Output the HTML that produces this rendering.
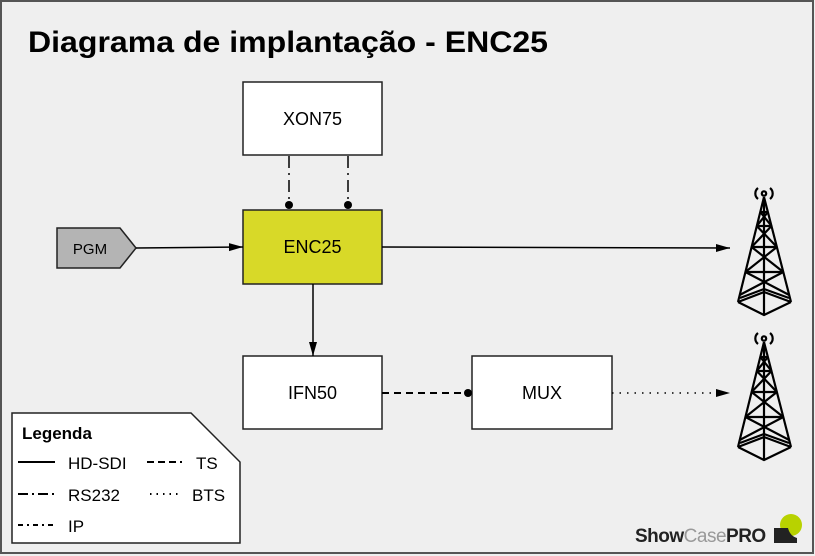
<!DOCTYPE html>
<html><head><meta charset="utf-8"><style>
html,body{margin:0;padding:0;background:#efefef}
svg{display:block}
text{font-family:"Liberation Sans",Arial,sans-serif}
</style></head><body>
<svg width="815" height="556" viewBox="0 0 815 556" xmlns="http://www.w3.org/2000/svg">
<defs>
<marker id="arl" viewBox="0 0 14 10" refX="14" refY="5" markerWidth="14" markerHeight="10" markerUnits="userSpaceOnUse" orient="auto"><path d="M0,1 L14,5 L0,9 z" fill="#000"/></marker>
<g id="tower" fill="none" stroke="#000" stroke-width="2.2">
<path d="M758,188 A7,7 0 0 0 758,199"/>
<path d="M770,188 A7,7 0 0 1 770,199"/>
<circle cx="764" cy="193.5" r="2.2"/>
<path d="M764,197 L738,302 M764,197 L791,302 M764,197 L764,315"/>
<path d="M738,302 L764,315 L791,302 M738,302 L764,292 L791,302 M740,298 L764,289 L789,298"/>
<path d="M760.3,212 H767.9 M756.8,226 H771.5 M751.6,247 H776.9 M745.4,272 H783.3"/>
<path d="M760.3,212 L771.5,226 M767.9,212 L756.8,226 M756.8,226 L776.9,247 M771.5,226 L751.6,247 M751.6,247 L783.3,272 M776.9,247 L745.4,272 M745.4,272 L789.2,295 M783.3,272 L739.7,295"/>
</g>
</defs>
<rect x="1" y="1" width="812" height="552" fill="#efefef" stroke="#555" stroke-width="2"/>
<text x="28" y="52" font-size="30" font-weight="bold" textLength="520" lengthAdjust="spacingAndGlyphs">Diagrama de implantação - ENC25</text>

<rect x="243" y="82" width="139" height="73" fill="#fff" stroke="#222" stroke-width="1.5"/>
<text x="312.5" y="125" font-size="18" text-anchor="middle">XON75</text>
<rect x="243" y="210" width="139" height="74" fill="#d8d928" stroke="#222" stroke-width="1.5"/>
<text x="312.5" y="253" font-size="18" text-anchor="middle">ENC25</text>
<rect x="243" y="356" width="139" height="73" fill="#fff" stroke="#222" stroke-width="1.5"/>
<text x="312.5" y="399" font-size="18" text-anchor="middle">IFN50</text>
<rect x="472" y="356" width="140" height="73" fill="#fff" stroke="#222" stroke-width="1.5"/>
<text x="542" y="399" font-size="18" text-anchor="middle">MUX</text>
<path d="M57,228 L120,228 L136,248 L120,268 L57,268 z" fill="#b4b4b4" stroke="#222" stroke-width="1.5"/>
<text x="90" y="254" font-size="15" text-anchor="middle">PGM</text>

<g stroke="#000" stroke-width="1.5" fill="none">
<path d="M289,156 V205 M348,156 V205" stroke-dasharray="12,5,2,5"/>
<path d="M136,248 L243,247" marker-end="url(#arl)"/>
<path d="M382,247 L730,248" marker-end="url(#arl)"/>
<path d="M313,284 V356" marker-end="url(#arl)"/>
<path d="M382,393 H467" stroke-dasharray="7,5" stroke-width="2"/>
<path d="M612,393 H730" stroke-dasharray="1.5,6" marker-end="url(#arl)"/>
</g>
<circle cx="289" cy="205" r="4" fill="#000"/>
<circle cx="348" cy="205" r="4" fill="#000"/>
<circle cx="468" cy="393" r="4" fill="#000"/>

<use href="#tower"/>
<use href="#tower" transform="translate(0,145)"/>

<path d="M12,413 L191,413 L240,462 L240,543 L12,543 z" fill="#fff" stroke="#222" stroke-width="1.5"/>
<text x="22" y="439" font-size="17" font-weight="bold">Legenda</text>
<g font-size="17" fill="#000">
<text x="68" y="469">HD-SDI</text><text x="196" y="469">TS</text>
<text x="68" y="501">RS232</text><text x="192" y="501">BTS</text>
<text x="68" y="532">IP</text>
</g>
<g stroke="#000" stroke-width="2" fill="none">
<path d="M18,462 H55"/>
<path d="M147,462 H182" stroke-dasharray="7,4"/>
<path d="M18,494 H55" stroke-dasharray="10,4,2,4"/>
<path d="M150,494 H182" stroke-dasharray="1.5,5"/>
<path d="M18,525 H55" stroke-dasharray="5,4,2,4"/>
</g>

<text x="635" y="542" font-size="19" font-weight="bold" fill="#222" letter-spacing="-0.5">Show<tspan fill="#999" font-weight="normal">Case</tspan>PRO</text>
<circle cx="791" cy="525" r="11" fill="#b8d200"/>
<path d="M774,528 L788,528 Q790,536 797,538 L797,543 L774,543 z" fill="#222"/>
</svg>
</body></html>
